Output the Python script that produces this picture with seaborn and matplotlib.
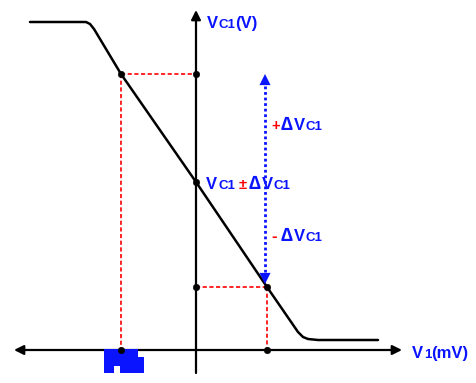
import matplotlib
matplotlib.use("Agg")
import matplotlib.pyplot as plt
import seaborn as sns
import pandas as pd
from matplotlib.patches import Rectangle

# transfer curve (pixel coords, y grows downward)
curve_x = [30, 86, 90, 94, 121, 196, 267, 298, 303, 308, 318, 378]
curve_y = [22, 22, 24, 29, 74, 182, 287, 332, 337, 339, 340, 340]

# marked points
pts_x = [121, 196, 196, 196, 267, 121, 267]
pts_y = [74, 74, 182, 287, 287, 350, 350]

# red guide segments: (x0, y0, x1, y1)
guides = [(121, 74, 196, 74), (121, 74, 121, 350),
          (196, 287, 267, 287), (267, 287, 267, 350)]

BLUE = "#0a14ff"
RED = "#ff0000"

sns.set_style("white")
plt.rcParams["font.family"] = ["Liberation Sans", "DejaVu Sans"]

fig = plt.figure(figsize=(4.77, 3.83), dpi=100)
ax = fig.add_axes([0, 0, 1, 1])
ax.set_xlim(0, 477)
ax.set_ylim(383, 0)
ax.axis("off")

# axes with arrows
ax.annotate("", xy=(14, 350), xytext=(402, 350),
            arrowprops=dict(arrowstyle="<|-|>", color="black", lw=1.6,
                            mutation_scale=14, shrinkA=0, shrinkB=0))
ax.annotate("", xy=(196, 10), xytext=(196, 373),
            arrowprops=dict(arrowstyle="-|>", color="black", lw=1.6,
                            mutation_scale=14, shrinkA=0, shrinkB=0))

# red dashed guides
for x0, y0, x1, y1 in guides:
    ax.plot([x0, x1], [y0, y1], color=RED, lw=1.2, ls=(0, (2.5, 1.5)))

# blue dotted double arrow
ax.plot([265, 265], [86, 272], color=BLUE, lw=2.0, ls=(0, (1.0, 1.0)))
ax.annotate("", xy=(265, 74), xytext=(265, 92),
            arrowprops=dict(arrowstyle="-|>", color=BLUE, lw=0,
                            mutation_scale=20, shrinkA=0, shrinkB=0))
ax.annotate("", xy=(265, 284), xytext=(265, 266),
            arrowprops=dict(arrowstyle="-|>", color=BLUE, lw=0,
                            mutation_scale=20, shrinkA=0, shrinkB=0))

# the curve
df = pd.DataFrame({"x": curve_x, "y": curve_y})
sns.lineplot(data=df, x="x", y="y", ax=ax, color="black", lw=1.8,
             sort=False, estimator=None)

# redacted label block on the x axis
for (rx, ry, rw, rh) in [(104, 349, 10, 24), (114, 349, 6, 17),
                         (120, 349, 18, 24), (138, 357, 6, 16)]:
    ax.add_patch(Rectangle((rx, ry), rw, rh, color=BLUE, lw=0, zorder=3))

pts = pd.DataFrame({"x": pts_x, "y": pts_y})
sns.scatterplot(data=pts, x="x", y="y", ax=ax, color="black", s=22,
                edgecolor="black", zorder=4)
ax.set_xlabel("")
ax.set_ylabel("")


def label(pieces, y):
    # pieces: (x, text, size, color); all share one baseline
    for x, t, fs, c in pieces:
        ax.text(x, y, t, fontsize=fs, color=c, fontweight="bold",
                ha="left", va="baseline", zorder=5)


label([(207, "V", 12, BLUE), (219, "C1", 9.5, BLUE),
       (235, "(V)", 12, BLUE)], 28)
label([(206, "V", 12, BLUE), (219, "C1", 9.5, BLUE),
       (239, "±", 10.5, RED), (248.5, "∆", 14, BLUE), (262, "V", 12, BLUE),
       (274, "C1", 9.5, BLUE)], 189)
label([(271, "+", 10.5, RED), (280.5, "∆", 14, BLUE), (294, "V", 12, BLUE),
       (306, "C1", 9.5, BLUE)], 130)
label([(271, "-", 12, RED), (280.5, "∆", 14, BLUE), (294, "V", 12, BLUE),
       (306, "C1", 9.5, BLUE)], 241)
label([(412, "V", 12, BLUE), (424, "1", 9.5, BLUE),
       (431, "(mV)", 12, BLUE)], 358)

fig.savefig("out.png", dpi=100)
